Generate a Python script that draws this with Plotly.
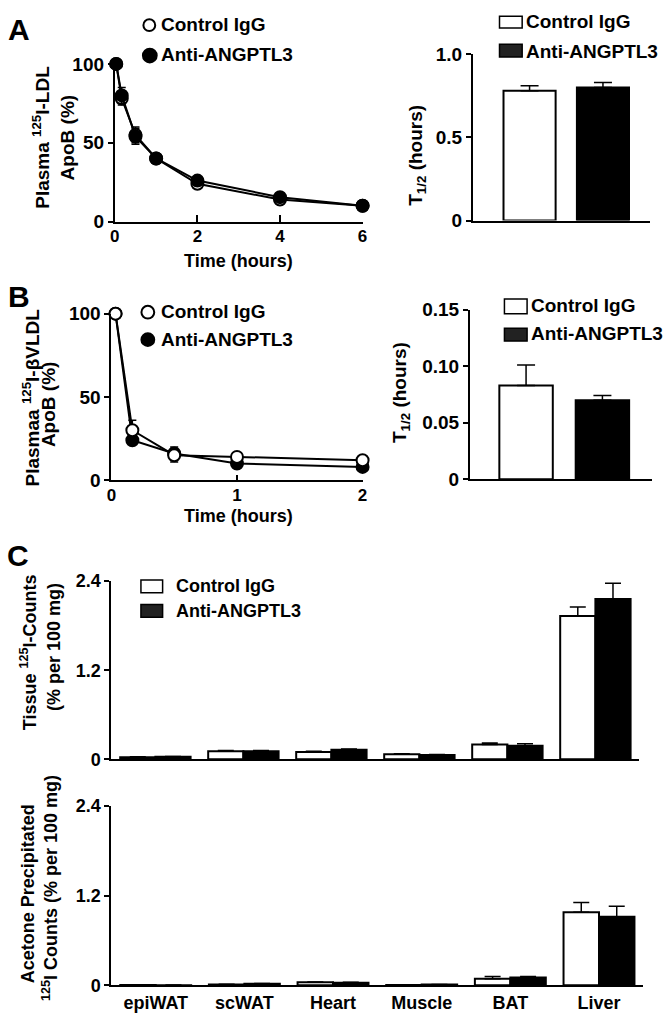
import plotly.graph_objects as go

W, H = 670, 1028


def px(x):
    return x / W


def py(y):
    return 1 - y / H


# ---------------- data ----------------
time_ldl = [0.033, 0.167, 0.5, 1, 2, 4, 6]
ldl_control = [100, 78, 55, 40, 24, 14, 10]
ldl_control_err = [0, 4, 5, 1, 1.5, 1, 1]
ldl_anti = [100, 80, 54, 40, 26, 15.5, 10]
ldl_anti_err = [0, 5, 5, 1, 1.5, 1, 1]

groups = ["Control IgG", "Anti-ANGPTL3"]
ldl_t_half = [0.78, 0.80]
ldl_t_half_err = [0.03, 0.03]

time_vldl = [0.033, 0.167, 0.5, 1, 2]
vldl_control = [100, 30, 15, 14, 12]
vldl_control_err = [0, 6, 4, 1, 1]
vldl_anti = [100, 24, 16, 10, 8]
vldl_anti_err = [0, 2, 4, 1, 1]

vldl_t_half = [0.083, 0.070]
vldl_t_half_err = [0.018, 0.004]

tissues = ["epiWAT", "scWAT", "Heart", "Muscle", "BAT", "Liver"]
tissue_control = [0.03, 0.11, 0.10, 0.07, 0.20, 1.93]
tissue_control_err = [0.005, 0.01, 0.01, 0.005, 0.02, 0.12]
tissue_anti = [0.035, 0.11, 0.13, 0.06, 0.185, 2.16]
tissue_anti_err = [0.005, 0.01, 0.01, 0.005, 0.025, 0.21]

acetone_control = [0.005, 0.01, 0.04, 0.005, 0.09, 0.98]
acetone_control_err = [0.002, 0.005, 0.005, 0.002, 0.03, 0.13]
acetone_anti = [0.003, 0.02, 0.035, 0.01, 0.105, 0.92]
acetone_anti_err = [0.002, 0.005, 0.005, 0.002, 0.015, 0.14]

ticks_ldl_y = [0, 50, 100]
ticks_ldl_x = [0, 2, 4, 6]
ticks_vldl_x = [0, 1, 2]
ticks_thalf_ldl = [0, 0.5, 1.0]
ticks_thalf_ldl_text = ["0", "0.5", "1.0"]
ticks_thalf_vldl = [0, 0.05, 0.10, 0.15]
ticks_thalf_vldl_text = ["0", "0.05", "0.10", "0.15"]
ticks_tissue = [0, 1.2, 2.4]
ticks_tissue_text = ["0", "1.2", "2.4"]

# ---------------- style ----------------
FONT = "Liberation Sans, Arial, Helvetica, sans-serif"
BLACK = "black"


def fnt(size):
    return dict(family=FONT, size=size, color=BLACK, weight="bold")


fig = go.Figure()


def line_trace(x, y, err, filled, xa, ya, name):
    return go.Scatter(
        x=x, y=y, mode="lines+markers", name=name,
        xaxis=xa, yaxis=ya, showlegend=False, cliponaxis=False,
        line=dict(color=BLACK, width=2),
        marker=dict(symbol="circle", size=12,
                    color=BLACK if filled else "white",
                    line=dict(color=BLACK, width=2)),
        error_y=dict(type="data", array=err, symmetric=True,
                     color=BLACK, thickness=1.5, width=4),
    )


# Panel A left (control below, anti on top)
fig.add_trace(line_trace(time_ldl, ldl_control, ldl_control_err, False, "x", "y", "Control IgG"))
fig.add_trace(line_trace(time_ldl, ldl_anti, ldl_anti_err, True, "x", "y", "Anti-ANGPTL3"))

# Panel B left (anti below, control on top)
fig.add_trace(line_trace(time_vldl, vldl_anti, vldl_anti_err, True, "x3", "y3", "Anti-ANGPTL3"))
fig.add_trace(line_trace(time_vldl, vldl_control, vldl_control_err, False, "x3", "y3", "Control IgG"))


def half_bar(xcat, yv, ev, fill, xa, ya, width):
    return go.Bar(
        x=[xcat], y=[yv], xaxis=xa, yaxis=ya, name=xcat, showlegend=False,
        offsetgroup="g", width=width,
        marker=dict(color=fill, line=dict(color=BLACK, width=2)),
        error_y=dict(type="data", array=[ev], arrayminus=[0], symmetric=False,
                     color=BLACK, thickness=1.5, width=9),
    )


fills = ["white", BLACK]
for i in range(2):
    fig.add_trace(half_bar(groups[i], ldl_t_half[i], ldl_t_half_err[i], fills[i], "x2", "y2", 0.71))
    fig.add_trace(half_bar(groups[i], vldl_t_half[i], vldl_t_half_err[i], fills[i], "x4", "y4", 0.70))


def tissue_bar(y, err, fill, xa, ya, name):
    return go.Bar(
        x=tissues, y=y, xaxis=xa, yaxis=ya, name=name, showlegend=False,
        marker=dict(color=fill, line=dict(color=BLACK, width=2)),
        error_y=dict(type="data", array=err, arrayminus=[0] * len(err), symmetric=False,
                     color=BLACK, thickness=1.5, width=8),
    )


fig.add_trace(tissue_bar(tissue_control, tissue_control_err, "white", "x5", "y5", "Control IgG"))
fig.add_trace(tissue_bar(tissue_anti, tissue_anti_err, BLACK, "x5", "y5", "Anti-ANGPTL3"))
fig.add_trace(tissue_bar(acetone_control, acetone_control_err, "white", "x6", "y6", "Control IgG"))
fig.add_trace(tissue_bar(acetone_anti, acetone_anti_err, BLACK, "x6", "y6", "Anti-ANGPTL3"))

# ---------------- axes ----------------
base = dict(showline=True, linecolor=BLACK, linewidth=2, showgrid=False, zeroline=False,
            ticks="outside", ticklen=5, tickwidth=2, tickcolor=BLACK, fixedrange=True)


def xax(d0, d1, anchor, **kw):
    a = dict(base)
    a.update(domain=[px(d0), px(d1)], anchor=anchor)
    a.update(kw)
    return a


def yax(top, bottom, anchor, **kw):
    a = dict(base)
    a.update(domain=[py(bottom), py(top)], anchor=anchor)
    a.update(kw)
    return a


fig.update_layout(
    xaxis=xax(111.5, 363, "y", range=[0, 6], tickvals=ticks_ldl_x, tickfont=fnt(17),
              ticks="inside", ticklen=7, ticklabelstandoff=-2),
    yaxis=yax(55, 216, "x", range=[0, 100], tickvals=ticks_ldl_y, tickfont=fnt(19)),
    xaxis2=xax(475, 655, "y2", type="category", categoryorder="array", categoryarray=groups,
               range=[-0.772, 1.644], ticks="", showticklabels=False),
    yaxis2=yax(45, 215, "x2", range=[0, 1.0], tickvals=ticks_thalf_ldl,
               ticktext=ticks_thalf_ldl_text, tickfont=fnt(19)),
    xaxis3=xax(108, 363, "y3", range=[0, 2], tickvals=ticks_vldl_x, tickfont=fnt(17),
               ticks="inside", ticklen=5, ticklabelstandoff=-2),
    yaxis3=yax(310, 480, "x3", range=[0, 100], tickvals=ticks_ldl_y, tickfont=fnt(19)),
    xaxis4=xax(472, 657, "y4", type="category", categoryorder="array", categoryarray=groups,
               range=[-0.735, 1.652], ticks="", showticklabels=False),
    yaxis4=yax(306, 479, "x4", range=[0, 0.15], tickvals=ticks_thalf_vldl,
               ticktext=ticks_thalf_vldl_text, tickfont=fnt(19)),
    xaxis5=xax(108, 644, "y5", type="category", categoryorder="array", categoryarray=tissues,
               range=[-0.5, 5.5], ticks="", showticklabels=False),
    yaxis5=yax(583, 765, "x5", range=[0, 2.4], tickvals=ticks_tissue,
               ticktext=ticks_tissue_text, tickfont=fnt(18)),
    xaxis6=xax(108, 648, "y6", type="category", categoryorder="array", categoryarray=tissues,
               range=[-0.5, 5.5], ticks="", tickfont=fnt(18)),
    yaxis6=yax(812.7, 995.7, "x6", range=[0, 2.4], tickvals=ticks_tissue,
               ticktext=ticks_tissue_text, tickfont=fnt(18)),
)

# ---------------- text ----------------
ann = []


def text(x, y, s, size, xanchor="center", yanchor="middle", angle=0):
    ann.append(dict(x=px(x), y=py(y), xref="paper", yref="paper", text=s, showarrow=False,
                    font=fnt(size), xanchor=xanchor, yanchor=yanchor, textangle=angle))


# panel letters
text(1, 1, "A", 30, "left", "top")
text(1, 274, "B", 30, "left", "top")
text(0, 538, "C", 30, "left", "top")

# axis titles
text(237, 256, "Time (hours)", 18)
text(37, 130, "Plasma <sup>125</sup>I-LDL", 19, angle=-90)
text(63, 131, "ApoB (%)", 19, angle=-90)
text(418, 148, "T<sub>1/2</sub> (hours)", 19, angle=-90)

text(26, 396, "Plasmaa <sup>125</sup>I-βVLDL", 19, angle=-90)
text(44, 403, "ApoB (%)", 19, angle=-90)
text(237, 517, "Time (hours)", 18)
text(402, 391, "T<sub>1/2</sub> (hours)", 19, angle=-90)

text(24, 656, "Tissue <sup>125</sup>I-Counts", 18, angle=-90)
text(49, 650, "(% per 100 mg)", 18, angle=-90)
text(23, 902, "Acetone Precipitated", 18, angle=-90)
text(46, 896, "<sup>125</sup>I Counts (% per 100 mg)", 18, angle=-90)

# legends
shapes = []


def circle_key(cx, cy, d, filled):
    shapes.append(dict(type="circle", xref="paper", yref="paper",
                       x0=px(cx - d / 2), x1=px(cx + d / 2), y0=py(cy + d / 2), y1=py(cy - d / 2),
                       fillcolor=BLACK if filled else "white", line=dict(color=BLACK, width=2)))


def box_key(x0, x1, cy, h, filled):
    shapes.append(dict(type="rect", xref="paper", yref="paper",
                       x0=px(x0), x1=px(x1), y0=py(cy + h / 2), y1=py(cy - h / 2),
                       fillcolor="#222222" if filled else "white", line=dict(color=BLACK, width=1.5)))


circle_key(146.5, 15.5, 12, False)
text(156, 15, "Control IgG", 19, "left")
circle_key(147, 46.5, 14, True)
text(156, 45, "Anti-ANGPTL3", 19, "left")

box_key(502, 525, 12.5, 12, False)
text(527, 12, "Control IgG", 19, "left")
box_key(502, 525, 41.5, 13, True)
text(527, 42, "Anti-ANGPTL3", 19, "left")

circle_key(145, 308.5, 13, False)
text(156, 308, "Control IgG", 19, "left")
circle_key(145, 336.5, 13, True)
text(156, 336, "Anti-ANGPTL3", 19, "left")

box_key(507, 530, 302.5, 15, False)
text(532, 302, "Control IgG", 19, "left")
box_key(507, 530, 331.5, 13, True)
text(532, 330, "Anti-ANGPTL3", 19, "left")

box_key(138, 160, 588.5, 13, False)
text(172, 588, "Control IgG", 18, "left")
box_key(138, 160, 613.5, 13, True)
text(172, 614, "Anti-ANGPTL3", 18, "left")

fig.update_layout(
    width=W, height=H, autosize=False,
    margin=dict(l=0, r=0, t=0, b=0),
    paper_bgcolor="white", plot_bgcolor="white",
    barmode="group", bargap=0.2, bargroupgap=0,
    showlegend=False,
    font=fnt(18),
    annotations=ann, shapes=shapes,
)

fig.write_html(
    "out.html",
    config={"displayModeBar": False},
    post_script="document.body.style.margin='0';document.body.style.padding='0';document.body.style.overflow='hidden';",
)
